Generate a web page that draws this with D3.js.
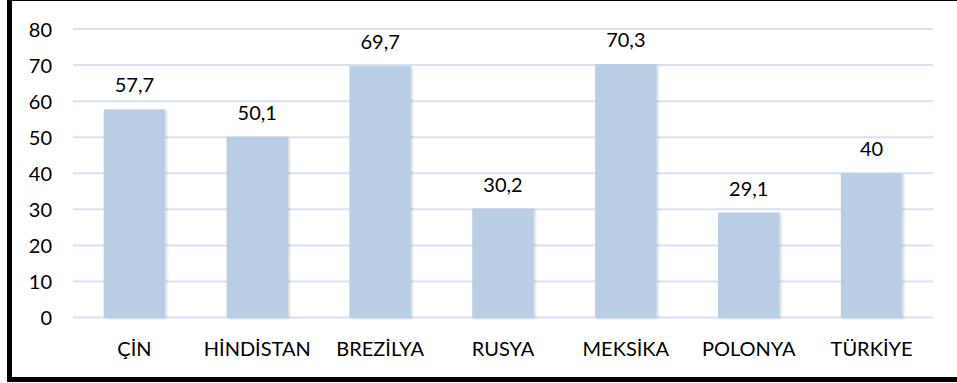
<!DOCTYPE html>
<html>
<head>
<meta charset="utf-8">
<script src="https://cdn.jsdelivr.net/npm/d3@7/dist/d3.min.js"></script>
<style>
  html, body { margin: 0; padding: 0; background: #fff; }
  svg { display: block; }
  text { font-family: Lato, "Open Sans", sans-serif; fill: #000; }
</style>
</head>
<body>
<svg id="chart" width="957" height="383"></svg>
<script>
// Ülkeler ve değerleri
const categories = ["ÇİN", "HİNDİSTAN", "BREZİLYA", "RUSYA", "MEKSİKA", "POLONYA", "TÜRKİYE"];
const values = [57.7, 50.1, 69.7, 30.2, 70.3, 29.1, 40];
const valueLabels = ["57,7", "50,1", "69,7", "30,2", "70,3", "29,1", "40"];
const yTicks = [0, 10, 20, 30, 40, 50, 60, 70, 80];

const svg = d3.select("#chart");
const FONT = "Lato, 'Open Sans', sans-serif";

// Çerçeve
svg.append("rect")
  .attr("x", 9.5).attr("y", -1.5)
  .attr("width", 960).attr("height", 381)
  .attr("fill", "none")
  .attr("stroke", "#000")
  .attr("stroke-width", 5);

const plot = { left: 73, right: 933, top: 29, bottom: 317.5 };

const x = d3.scaleBand()
  .domain(categories)
  .range([plot.left, plot.right])
  .paddingInner(0.5)
  .paddingOuter(0.25);

const y = d3.scaleLinear()
  .domain([0, 80])
  .range([plot.bottom, plot.top]);

// Izgara çizgileri
svg.append("g")
  .selectAll("line")
  .data(yTicks)
  .join("line")
  .attr("x1", plot.left).attr("x2", plot.right)
  .attr("y1", d => y(d)).attr("y2", d => y(d))
  .attr("stroke", "#d6e2f3")
  .attr("stroke-width", 2);

// Y ekseni etiketleri
const yAxis = d3.axisLeft(y).tickValues(yTicks).tickSize(0).tickPadding(0);
const gy = svg.append("g")
  .attr("transform", `translate(${plot.left - 21},0)`)
  .call(yAxis);
gy.select(".domain").remove();
gy.selectAll("text")
  .attr("font-size", 20)
  .attr("font-family", FONT)
  .attr("fill", "#000")
  .attr("dy", "0.36em");

// Gölge filtresi
const defs = svg.append("defs");
const f = defs.append("filter").attr("id", "shadow")
  .attr("x", "-10%").attr("y", "-10%").attr("width", "130%").attr("height", "130%");
f.append("feDropShadow")
  .attr("dx", 1.5).attr("dy", 1)
  .attr("stdDeviation", 1)
  .attr("flood-color", "#000")
  .attr("flood-opacity", 0.18);

// Çubuklar
svg.append("g")
  .selectAll("rect")
  .data(categories)
  .join("rect")
  .attr("x", d => x(d))
  .attr("width", x.bandwidth())
  .attr("y", (d, i) => y(values[i]))
  .attr("height", (d, i) => y(0) - y(values[i]))
  .attr("fill", "#b9cde5")
  .attr("filter", "url(#shadow)");

// Değer etiketleri
svg.append("g")
  .selectAll("text")
  .data(categories)
  .join("text")
  .attr("x", d => x(d) + x.bandwidth() / 2)
  .attr("y", (d, i) => y(values[i]) - 17)
  .attr("text-anchor", "middle")
  .attr("font-size", 20)
  .attr("font-family", FONT)
  .text((d, i) => valueLabels[i]);

// Kategori etiketleri
const xAxis = d3.axisBottom(x).tickSize(0).tickPadding(0);
const gx = svg.append("g")
  .attr("transform", `translate(0,${plot.bottom})`)
  .call(xAxis);
gx.select(".domain").remove();
gx.selectAll("text")
  .attr("font-size", 20)
  .attr("font-family", FONT)
  .attr("fill", "#000")
  .attr("dy", 0)
  .attr("y", 38.5);
</script>
</body>
</html>
